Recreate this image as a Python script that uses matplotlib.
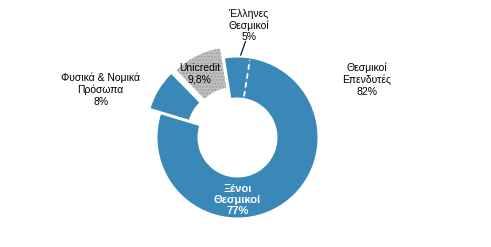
import numpy as np
import matplotlib.pyplot as plt

plt.rcParams['font.family'] = ['Liberation Sans', 'DejaVu Sans']

# Shareholder structure (%)
labels = ['Έλληνες\nΘεσμικοί\n5%', 'Ξένοι\nΘεσμικοί\n77%',
          'Φυσικά & Νομικά\nΠρόσωπα\n8%', 'Unicredit\n9,8%']
values = [5, 77, 8, 9.8]
group_label = 'Θεσμικοί\nΕπενδυτές\n82%'

blue = '#3a88b8'
gray = '#c0c0c0'
colors = [blue, blue, blue, gray]
explode = [0, 0, 0.15, 0.14]

fig = plt.figure(figsize=(4.91, 2.47), dpi=100)
ax = fig.add_axes([0.0, 0.0, 1.0, 1.0])

wedges, _ = ax.pie(values, colors=colors, explode=explode, startangle=99,
                   counterclock=False, radius=1.0,
                   wedgeprops=dict(width=0.5, linewidth=0))
wedges[3].set_hatch('.....')
wedges[3].set_edgecolor('#a0a0a0')
wedges[3].set_linewidth(0)

# centre of donut at (237.5, 137.5) px, radius 80 px
W, H = 491, 247
ax.set_xlim(-237.5 / 80, (W - 237.5) / 80)
ax.set_ylim(-(H - 137.5) / 80, 137.5 / 80)
ax.set_aspect('equal')
ax.axis('off')

# dashed white boundary between the two institutional slices
ang = np.deg2rad(wedges[0].theta1)
ax.plot([0.52 * np.cos(ang), 0.98 * np.cos(ang)],
        [0.52 * np.sin(ang), 0.98 * np.sin(ang)],
        color='white', lw=1.3, ls=(0, (3, 2)))

fs = 7.5
ax.text(0.0, -0.78, labels[1], ha='center', va='center', color='white',
        fontsize=8, fontweight='bold', linespacing=1.15)
ax.text(-0.47, 0.8, labels[3], ha='center', va='center', color='black',
        fontsize=fs, linespacing=1.2)
ax.text(-1.71, 0.6, labels[2], ha='center', va='center', color='black',
        fontsize=fs, linespacing=1.2)
ax.text(0.14, 1.4, labels[0], ha='center', va='center', color='black',
        fontsize=fs, linespacing=1.2)
ax.plot([0.1, 0.04], [1.2, 1.03], color='black', lw=0.8)
ax.text(1.62, 0.72, group_label, ha='center', va='center', color='black',
        fontsize=fs, linespacing=1.2)

fig.savefig('out.png', dpi=100)
